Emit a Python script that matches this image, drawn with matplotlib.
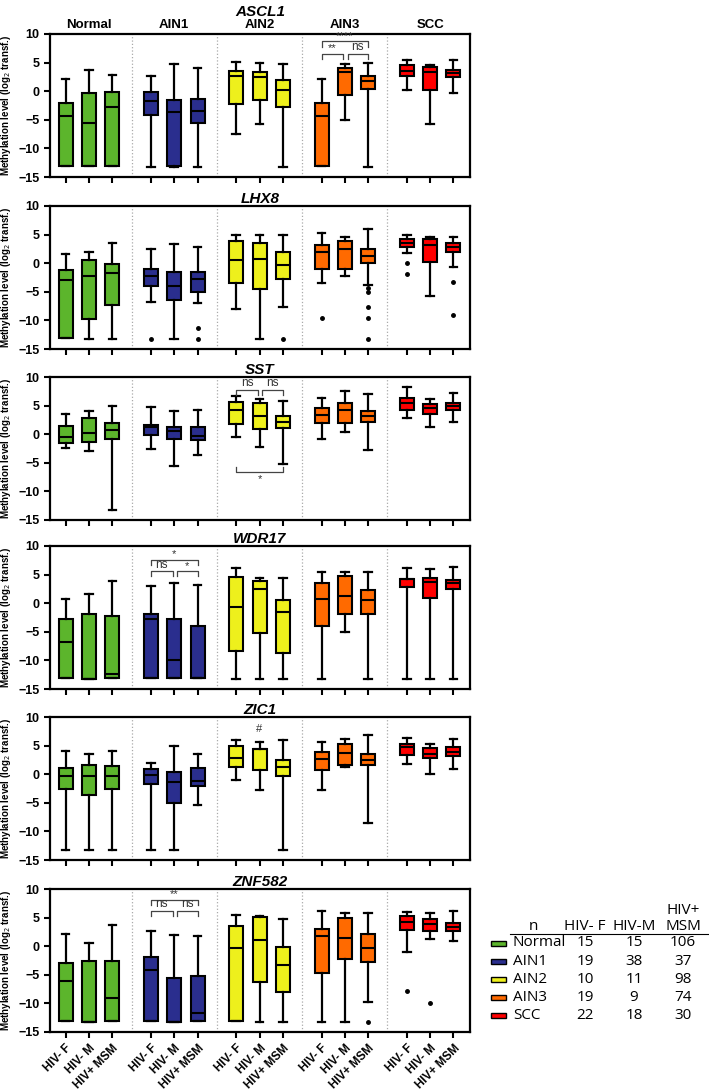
import matplotlib.pyplot as plt
from matplotlib.patches import Rectangle

# 分组、颜色和基因名
groups = ['Normal', 'AIN1', 'AIN2', 'AIN3', 'SCC']
subgroups = ['HIV- F', 'HIV- M', 'HIV+ MSM']
colors = ['#5CB52C', '#2A2E8E', '#EEF01C', '#FF6A00', '#FF0000']
genes = ['ASCL1', 'LHX8', 'SST', 'WDR17', 'ZIC1', 'ZNF582']

# 每个箱子: (下须, Q1, 中位数, Q3, 上须)，顺序 Normal F/M/MSM, AIN1 ..., SCC
ascl1 = [(-13.1, -13.1, -4.3, -2.1, 2.2), (-13.1, -13.1, -5.6, -0.4, 3.7), (-13.1, -13.1, -2.8, -0.2, 2.9),
         (-13.3, -4.1, -1.8, -0.1, 2.6), (-13.3, -13.1, -3.6, -1.6, 4.8), (-13.3, -5.5, -3.4, -1.3, 4.1),
         (-7.5, -2.2, 2.6, 3.5, 5.1), (-5.8, -1.5, 2.4, 3.4, 5.0), (-13.3, -2.7, 0.2, 2.0, 4.8),
         (-13.1, -13.1, -4.3, -2.1, 2.2), (-5.0, -0.7, 3.3, 4.0, 4.7), (-13.3, 0.4, 1.7, 2.7, 5.0),
         (0.2, 2.7, 3.6, 4.5, 5.4), (-5.7, 0.2, 3.3, 4.2, 4.6), (-0.4, 2.5, 3.2, 3.7, 5.4)]
lhx8 = [(-13.0, -13.0, -2.9, -1.2, 1.6), (-13.3, -9.8, -2.3, 0.6, 1.9), (-13.3, -7.3, -1.8, -0.2, 3.6),
        (-6.7, -4.0, -2.2, -1.1, 2.5), (-13.3, -6.5, -3.9, -1.6, 3.3), (-7.0, -5.0, -2.8, -1.6, 2.9),
        (-8.0, -3.4, 0.6, 3.8, 4.9), (-13.3, -4.5, 0.7, 3.6, 4.9), (-7.6, -2.8, -0.4, 1.9, 5.0),
        (-3.5, -1.0, 2.0, 3.2, 5.3), (-2.3, -1.0, 2.5, 3.8, 4.5), (-3.8, 0.1, 1.2, 2.5, 6.0),
        (1.8, 2.8, 3.6, 4.3, 5.0), (-5.7, 0.2, 3.2, 4.2, 4.6), (-0.7, 1.9, 2.8, 3.5, 4.5)]
sst = [(-2.4, -1.6, -0.5, 1.4, 3.6), (-2.9, -1.4, 0.2, 2.8, 4.1), (-13.3, -0.8, 0.8, 2.0, 4.9),
       (-2.5, -0.1, 1.3, 1.6, 4.7), (-5.6, -0.8, 0.5, 1.2, 4.1), (-3.7, -1.1, -0.3, 1.2, 4.2),
       (-0.5, 1.8, 4.2, 5.7, 6.6), (-2.2, 0.9, 3.2, 5.4, 6.1), (-5.2, 1.0, 2.2, 3.1, 5.8),
       (-0.8, 2.0, 3.4, 4.6, 6.3), (0.3, 2.0, 4.2, 5.5, 7.6), (-2.8, 2.1, 3.2, 4.1, 7.1),
       (2.9, 4.2, 5.5, 6.4, 8.2), (1.2, 3.5, 4.5, 5.2, 6.1), (2.1, 4.3, 4.9, 5.5, 7.2)]
wdr17 = [(-13.1, -13.1, -6.8, -2.8, 0.7), (-13.2, -13.2, -13.2, -1.9, 1.6), (-13.1, -13.1, -12.3, -2.2, 3.9),
         (-13.0, -13.0, -2.7, -1.9, 3.0), (-13.1, -13.1, -9.9, -2.8, 3.5), (-13.1, -13.1, -13.1, -3.9, 3.2),
         (-13.2, -8.4, -0.7, 4.5, 6.2), (-13.2, -5.2, 2.5, 3.9, 4.4), (-13.2, -8.7, -1.6, 0.5, 4.4),
         (-13.2, -3.9, 0.8, 3.5, 5.4), (-5.1, -1.9, 1.2, 4.8, 5.4), (-13.2, -1.9, 0.6, 2.3, 5.5),
         (-13.3, 2.8, 4.2, 4.3, 6.1), (-13.3, 0.9, 3.7, 4.4, 6.0), (-13.3, 2.4, 3.6, 4.0, 6.4)]
zic1 = [(-13.3, -2.5, -0.4, 1.0, 4.0), (-13.3, -3.7, -0.4, 1.6, 3.6), (-13.3, -2.5, -0.3, 1.5, 4.0),
        (-13.3, -1.8, -0.2, 0.9, 2.0), (-13.3, -5.1, -1.3, 0.4, 5.0), (-5.4, -2.0, -1.2, 1.1, 3.6),
        (-1.1, 1.2, 2.9, 5.0, 5.9), (-2.7, 0.7, 4.4, 4.4, 5.7), (-13.3, -0.3, 1.3, 2.4, 5.9),
        (-2.7, 0.8, 2.6, 3.9, 5.7), (1.2, 1.6, 3.7, 5.3, 6.1), (-8.5, 1.6, 2.5, 3.6, 6.8),
        (1.7, 3.3, 4.8, 5.3, 6.3), (0.1, 2.8, 3.6, 4.6, 5.3), (0.9, 3.2, 3.9, 4.7, 6.1)]
znf582 = [(-13.1, -13.1, -6.0, -2.9, 2.2), (-13.2, -13.2, -13.2, -2.5, 0.5), (-13.1, -13.1, -9.1, -2.6, 3.7),
          (-13.1, -13.1, -4.1, -1.9, 2.6), (-13.2, -13.2, -13.2, -5.5, 1.9), (-13.1, -13.1, -11.6, -5.2, 1.8),
          (-13.1, -13.1, -0.4, 3.5, 5.4), (-13.3, -6.3, 1.0, 5.1, 5.3), (-13.3, -8.0, -3.2, -0.1, 4.8),
          (-13.3, -4.7, 1.8, 3.0, 6.1), (-13.3, -2.2, 1.4, 5.0, 5.8), (-9.8, -2.8, -0.4, 2.1, 5.8),
          (-1.0, 2.8, 4.2, 5.2, 5.9), (1.2, 2.7, 3.8, 4.8, 5.8), (0.9, 2.6, 3.4, 4.0, 6.1)]

# 离群点 {箱子序号: [数值]}
lhx8_fliers = {3: [-13.3], 5: [-11.3, -13.3], 8: [-13.3], 9: [-9.5],
               11: [-4.4, -5.0, -7.7, -9.5, -13.3], 12: [0.0, -1.9], 14: [-3.2, -9.0]}
znf582_fliers = {11: [-13.3], 12: [-7.8], 13: [-9.9]}

all_boxes = [ascl1, lhx8, sst, wdr17, zic1, znf582]
all_fliers = [{}, lhx8_fliers, {}, {}, {}, znf582_fliers]

# 显著性标注: (面板, 箱子1, 箱子2, y, 文字)
sig = [(0, 9, 10, 6.5, '**'), (0, 10, 11, 6.5, 'ns'), (0, 9, 11, 8.7, '****'),
       (2, 6, 7, 7.8, 'ns'), (2, 7, 8, 7.8, 'ns'), (2, 6, 8, -6.6, '*'),
       (3, 3, 4, 5.6, 'ns'), (3, 4, 5, 5.6, '*'), (3, 3, 5, 7.6, '*'),
       (5, 3, 4, 6.2, 'ns'), (5, 4, 5, 6.2, 'ns'), (5, 3, 5, 8.1, '**')]

# 样本数表
n_table = [[15, 15, 106], [19, 38, 37], [10, 11, 98], [19, 9, 74], [22, 18, 30]]

W, H = 709, 1090
fig = plt.figure(figsize=(W / 100, H / 100), dpi=100)
plt.rcParams['font.family'] = ['Liberation Sans', 'DejaVu Sans']

gap = 3.66
positions = [g * gap + j for g in range(5) for j in range(3)]
tops = [34, 206, 377, 546, 717, 889]
ph = 143

for i, gene in enumerate(genes):
    ax = fig.add_axes([50 / W, 1 - (tops[i] + ph) / H, 420 / W, ph / H])
    stats = []
    for k, b in enumerate(all_boxes[i]):
        stats.append(dict(whislo=b[0], q1=b[1], med=b[2], q3=b[3], whishi=b[4],
                          fliers=all_fliers[i].get(k, [])))
    bp = ax.bxp(stats, positions=positions, widths=0.6, capwidths=0.32, patch_artist=True,
                boxprops=dict(edgecolor='black', linewidth=1.5),
                whiskerprops=dict(color='black', linewidth=1.6),
                capprops=dict(color='black', linewidth=1.6),
                medianprops=dict(color='black', linewidth=1.5),
                flierprops=dict(marker='o', markersize=2.5, markerfacecolor='black',
                                markeredgecolor='black'))
    for k, patch in enumerate(bp['boxes']):
        patch.set_facecolor(colors[k // 3])

    # 组间虚线
    for g in range(4):
        ax.axvline(g * gap + 2.83, color='#aaaaaa', ls=':', lw=0.9)

    ax.set_xlim(-0.67, 17.35)
    ax.set_ylim(-15, 10)
    ax.set_yticks([-15, -10, -5, 0, 5, 10])
    for s in ax.spines.values():
        s.set_linewidth(1.6)
    ax.tick_params(direction='out', length=4, width=1.5, labelsize=9)
    for t in ax.get_yticklabels():
        t.set_fontweight('bold')
    ax.set_ylabel('Methylation level (log$_2$ transf.)', fontsize=7.0, fontweight='bold')
    ax.yaxis.set_label_coords(-0.088, 0.5)

    ax.set_xticks(positions)
    if i == 5:
        ax.set_xticklabels(subgroups * 5, rotation=45, ha='right', rotation_mode='anchor',
                           fontsize=8.5, fontweight='bold')
    else:
        ax.set_xticklabels([])

    if i == 0:
        ax.set_title(gene, fontsize=11, fontweight='bold', style='italic', pad=13)
        for g, name in enumerate(groups):
            ax.text(g * gap + 1, 10.6, name, ha='center', va='bottom',
                    fontsize=9.5, fontweight='bold')
    else:
        ax.set_title(gene, fontsize=11, fontweight='bold', style='italic', pad=1.5)

    # 显著性括号
    for p, b1, b2, y, txt in sig:
        if p != i:
            continue
        x1 = positions[b1] + (0.12 if b1 % 3 == 1 else 0)
        x2 = positions[b2] - (0.07 if b2 % 3 == 1 and b1 % 3 == 0 else 0)
        if y > 0:
            ax.plot([x1, x1, x2, x2], [y - 0.9, y, y, y - 0.9], color='#444444', lw=0.9)
            ax.text((x1 + x2) / 2, y + 0.1, txt, ha='center', va='bottom',
                    fontsize=8.5 if txt == 'ns' else 8, color='#333333')
        else:
            ax.plot([x1, x1, x2, x2], [y + 0.9, y, y, y + 0.9], color='#444444', lw=0.9)
            ax.text((x1 + x2) / 2, y - 0.4, txt, ha='center', va='top', fontsize=8,
                    color='#333333')
    if i == 4:
        ax.text(positions[7], 7.9, '#', ha='center', va='center', fontsize=8, color='#333333')

# 右下角样本数表
def fx(px):
    return px / W

def fy(py):
    return 1 - py / H

tf = dict(fontsize=11, family=['Open Sans', 'DejaVu Sans'], va='center')
fig.text(fx(533), fy(926), 'n', ha='center', **tf)
fig.text(fx(585), fy(926), 'HIV- F', ha='center', **tf)
fig.text(fx(634), fy(926), 'HIV-M', ha='center', **tf)
fig.text(fx(683), fy(910), 'HIV+', ha='center', **tf)
fig.text(fx(683), fy(926), 'MSM', ha='center', **tf)
fig.add_artist(plt.Line2D([fx(510), fx(709)], [fy(934), fy(934)], color='black', lw=0.8))
for r, name in enumerate(groups):
    yy = 943 + r * 18.2
    fig.add_artist(Rectangle((fx(491), fy(yy + 2.5)), 15 / W, 5 / H, transform=fig.transFigure,
                             facecolor=colors[r], edgecolor='black', lw=1))
    fig.text(fx(513), fy(yy), name, ha='left', **tf)
    for c, cx in enumerate([585, 634, 683]):
        fig.text(fx(cx), fy(yy), str(n_table[r][c]), ha='center', **tf)

plt.savefig('out.png', dpi=100)
